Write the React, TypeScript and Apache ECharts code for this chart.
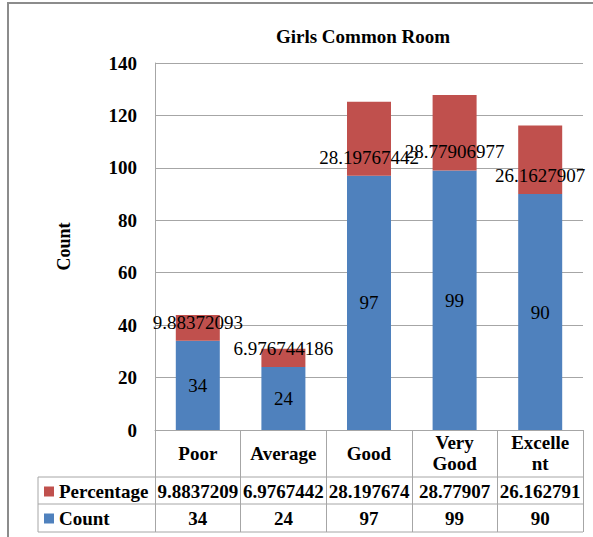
import React, { useEffect, useRef } from "react";
import * as echarts from "echarts";

const categories = ["Poor", "Average", "Good", "Very Good", "Excellent"];
const headerLabels = ["Poor", "Average", "Good", "Very\nGood", "Excelle\nnt"];
const countValues = [34, 24, 97, 99, 90];
const percentageValues = [9.88372093, 6.976744186, 28.19767442, 28.77906977, 26.1627907];
const percentageTable = ["9.8837209", "6.9767442", "28.197674", "28.77907", "26.162791"];
const countTable = ["34", "24", "97", "99", "90"];
const yTicks = { min: 0, max: 140, interval: 20 };

const FONT = "Liberation Serif";
const BLUE = "#4F81BD";
const RED = "#C0504D";
const GRID = "#A6A6A6";

export default function App() {
  const ref = useRef<HTMLDivElement>(null);
  useEffect(() => {
    document.body.style.margin = "0";
    const chart = echarts.init(ref.current!, null, { renderer: "svg" });
    const tableAxis = (data: string[], margin: number) => ({
      type: "category",
      data,
      position: "bottom",
      gridIndex: 0,
      axisLine: { show: false },
      axisTick: { show: false },
      splitLine: { show: false },
      axisLabel: {
        interval: 0,
        margin,
        verticalAlign: "middle",
        fontFamily: FONT,
        fontWeight: "bold",
        fontSize: 19,
        color: "#000",
      },
    });
    chart.setOption({
      animation: false,
      backgroundColor: "#fff",
      textStyle: { fontFamily: FONT },
      title: {
        text: "Girls Common Room",
        left: 363,
        top: 27,
        padding: 0,
        textAlign: "center",
        textStyle: { fontFamily: FONT, fontWeight: "bold", fontSize: 19, color: "#000" },
      },
      legend: {
        data: ["Percentage", "Count"],
        orient: "vertical",
        left: 44,
        top: 482,
        padding: 0,
        itemWidth: 10,
        itemHeight: 10,
        itemGap: 8,
        icon: "rect",
        selectedMode: false,
        textStyle: { fontFamily: FONT, fontWeight: "bold", fontSize: 19, color: "#000", lineHeight: 19 },
      },
      grid: { left: 155, right: 10, top: 63, bottom: 107, containLabel: false },
      xAxis: [
        {
          type: "category",
          data: categories,
          axisLine: { show: true, lineStyle: { color: GRID, width: 1 } },
          axisTick: { show: true, length: 102, alignWithLabel: false, lineStyle: { color: GRID } },
          axisLabel: {
            interval: 0,
            margin: 23,
            verticalAlign: "middle",
            lineHeight: 21,
            fontFamily: FONT,
            fontWeight: "bold",
            fontSize: 19,
            color: "#000",
            formatter: (_v: string, i: number) => headerLabels[i],
          },
        },
        tableAxis(percentageTable, 61),
        tableAxis(countTable, 88),
      ],
      yAxis: {
        type: "value",
        min: yTicks.min,
        max: yTicks.max,
        interval: yTicks.interval,
        name: "Count",
        nameLocation: "middle",
        nameGap: 82,
        nameRotate: 90,
        nameTextStyle: { fontFamily: FONT, fontWeight: "bold", fontSize: 18, color: "#000" },
        axisLine: { show: true, lineStyle: { color: GRID } },
        axisTick: { show: false },
        splitLine: { lineStyle: { color: GRID, width: 1 } },
        axisLabel: { margin: 18, fontFamily: FONT, fontWeight: "bold", fontSize: 19, color: "#000" },
      },
      series: [
        {
          name: "Count",
          type: "bar",
          stack: "a",
          barWidth: 44,
          data: countValues,
          itemStyle: { color: BLUE },
          label: {
            show: true,
            position: "inside",
            fontFamily: FONT,
            fontWeight: "normal",
            fontSize: 19,
            color: "#000",
            textBorderWidth: 0,
          },
        },
        {
          name: "Percentage",
          type: "bar",
          stack: "a",
          barWidth: 44,
          data: percentageValues,
          itemStyle: { color: RED },
          label: {
            show: true,
            position: "insideBottom",
            distance: 9,
            fontFamily: FONT,
            fontWeight: "normal",
            fontSize: 19,
            color: "#000",
            textBorderWidth: 0,
            formatter: (p: any) => String(p.value),
          },
        },
      ],
      graphic: [
        { type: "rect", shape: { x: 8, y: 3, width: 700, height: 700 }, style: { fill: "none", stroke: "#8C8C8C", lineWidth: 2 }, silent: true },
        { type: "line", shape: { x1: 38, y1: 477, x2: 583, y2: 477 }, style: { stroke: GRID, lineWidth: 1 } },
        { type: "line", shape: { x1: 38, y1: 504, x2: 583, y2: 504 }, style: { stroke: GRID, lineWidth: 1 } },
        { type: "line", shape: { x1: 38, y1: 532, x2: 583, y2: 532 }, style: { stroke: GRID, lineWidth: 1 } },
        { type: "line", shape: { x1: 38, y1: 477, x2: 38, y2: 532 }, style: { stroke: GRID, lineWidth: 1 } },
      ],
    });
    return () => chart.dispose();
  }, []);
  return <div ref={ref} style={{ width: 593, height: 537 }} />;
}
